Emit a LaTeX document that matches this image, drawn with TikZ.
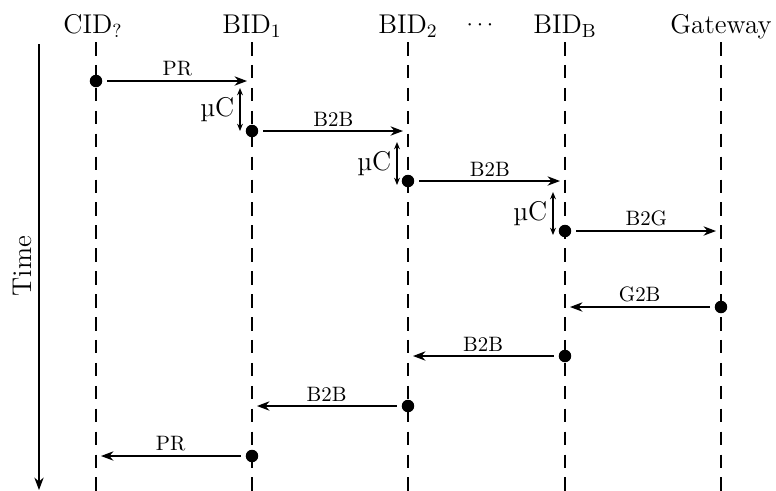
\documentclass[tikz,border=0pt]{standalone}
\usetikzlibrary{arrows.meta}
\begin{document}
\begin{tikzpicture}[x=0.48pt,y=-0.48pt,
  big/.style={font=\fontsize{13}{15}\selectfont, inner sep=0pt},
  life/.style={line width=1.1pt, dash pattern=on 6.5pt off 4.5pt},
  msg/.style={line width=0.6pt, -{Stealth[length=6pt,width=4.5pt]}, shorten <=2.3pt, shorten >=2.4pt},
  dur/.style={line width=0.6pt, {Stealth[length=3.5pt,width=2.8pt]}-{Stealth[length=3.5pt,width=2.8pt]}},
  lbl/.style={font=\normalsize, inner sep=2pt, above},
  evt/.style={circle, fill, inner sep=0pt, minimum size=6pt}]
\useasboundingbox (0,0) rectangle (776,491);

% headers
\node[big, anchor=base] (hC) at (93,33) {CID\textsubscript{?}};
\node[big, anchor=base] (h1) at (252,33) {BID\textsubscript{1}};
\node[big, anchor=base] (h2) at (408,33) {BID\textsubscript{2}};
\node[font=\fontsize{10.5}{12}\selectfont, inner sep=0pt] (hd) at (480,25) {$\cdots$};
\node[big, anchor=base] (hB) at (565,33) {BID\textsubscript{B}};
\node[big, anchor=base] (hG) at (721,33) {Gateway};

% lifelines
\foreach \n/\x in {C/96,1/252,2/408,B/565,G/721}{
  \coordinate (top\n) at (\x,42);
  \coordinate (bot\n) at (\x,491);
  \draw[life] (top\n) -- (bot\n);
}

% time axis
\coordinate (t0) at (39,44);
\coordinate (t1) at (39,490);
\draw[line width=0.6pt, -{Stealth[length=6pt,width=4.5pt]}] (t0) -- (t1);
\node[big, rotate=90] (time) at (22,266) {Time};

% events
\node[evt] (e1) at (96,81) {};
\coordinate (a1) at (252,81);
\node[evt] (e2) at (252,131) {};
\coordinate (a2) at (408,131);
\node[evt] (e3) at (408,181) {};
\coordinate (a3) at (565,181);
\node[evt] (e4) at (565,231) {};
\coordinate (a4) at (721,231);
\node[evt] (e5) at (721,307) {};
\coordinate (a5) at (565,307);
\node[evt] (e6) at (565,356) {};
\coordinate (a6) at (408,356);
\node[evt] (e7) at (408,406) {};
\coordinate (a7) at (252,406);
\node[evt] (e8) at (252,456) {};
\coordinate (a8) at (96,456);

\draw[msg] (e1) -- node[lbl]{PR} (a1);
\draw[msg] (e2) -- node[lbl]{B2B} (a2);
\draw[msg] (e3) -- node[lbl]{B2B} (a3);
\draw[msg] (e4) -- node[lbl]{B2G} (a4);
\draw[msg] (e5) -- node[lbl]{G2B} (a5);
\draw[msg] (e6) -- node[lbl]{B2B} (a6);
\draw[msg] (e7) -- node[lbl]{B2B} (a7);
\draw[msg] (e8) -- node[lbl]{PR} (a8);

% processing delays
\coordinate (u1a) at (240,88);  \coordinate (u1b) at (240,131);
\coordinate (u2a) at (397,142); \coordinate (u2b) at (397,185);
\coordinate (u3a) at (553,192); \coordinate (u3b) at (553,235);
\draw[dur] (u1a) -- node[big, left=2.5pt]{\textmu C} (u1b);
\draw[dur] (u2a) -- node[big, left=2.5pt]{\textmu C} (u2b);
\draw[dur] (u3a) -- node[big, left=2.5pt]{\textmu C} (u3b);
\end{tikzpicture}
\end{document}
